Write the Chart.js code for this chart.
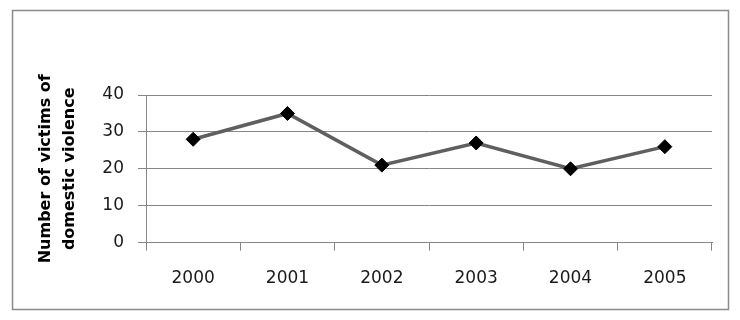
<!DOCTYPE html>
<html>
<head>
<meta charset="utf-8">
<script src="https://cdn.jsdelivr.net/npm/chart.js@4"></script>
<style>
html,body{margin:0;padding:0;background:#fff;}
#wrap{width:740px;height:320px;position:relative;}
</style>
</head>
<body>
<div id="wrap"><canvas id="c" width="740" height="320"></canvas></div>
<script>
const years = ["2000","2001","2002","2003","2004","2005"];
const victims = [28, 35, 21, 27, 20, 26];
const yTitle = ["Number of victims of", "domestic violence"];

const frame = {
  id: 'frame',
  beforeDraw(chart) {
    const ctx = chart.ctx;
    ctx.save();
    ctx.fillStyle = '#fff';
    ctx.fillRect(0, 0, chart.width, chart.height);
    ctx.strokeStyle = '#8a8a8a';
    ctx.lineWidth = 1.5;
    ctx.strokeRect(12.5, 10.5, 716, 299);
    ctx.restore();
  }
};

new Chart(document.getElementById('c'), {
  type: 'line',
  data: {
    labels: years,
    datasets: [{
      data: victims,
      borderColor: '#5f5f5f',
      borderWidth: 3.5,
      pointStyle: 'rectRot',
      pointRadius: 7,
      pointHoverRadius: 7,
      pointBackgroundColor: '#000',
      pointBorderColor: '#000',
      pointBorderWidth: 1,
      tension: 0,
      fill: false
    }]
  },
  options: {
    responsive: false,
    animation: false,
    events: [],
    plugins: { legend: { display: false }, tooltip: { enabled: false } },
    layout: { padding: { left: 33, top: 95, right: 28, bottom: 13 } },
    scales: {
      x: {
        offset: true,
        grid: { offset: true, drawOnChartArea: false, drawTicks: true, tickLength: 8, color: '#868686', lineWidth: 1 },
        border: { color: '#868686', width: 1 },
        ticks: { color: '#1a1a1a', font: { family: 'DejaVu Sans', size: 17 }, padding: 18, maxRotation: 0 }
      },
      y: {
        min: 0, max: 40,
        afterFit(scale) { scale.width = 113; },
        grid: { color: '#868686', lineWidth: 1, tickLength: 8 },
        border: { color: '#868686', width: 1 },
        ticks: { stepSize: 10, color: '#1a1a1a', font: { family: 'DejaVu Sans', size: 17 }, padding: 14 },
        title: {
          display: true,
          text: yTitle,
          color: '#000',
          font: { family: 'DejaVu Sans', size: 16, weight: 'bold', lineHeight: 1.55 },
          padding: 0
        }
      }
    }
  },
  plugins: [frame]
});
</script>
</body>
</html>
